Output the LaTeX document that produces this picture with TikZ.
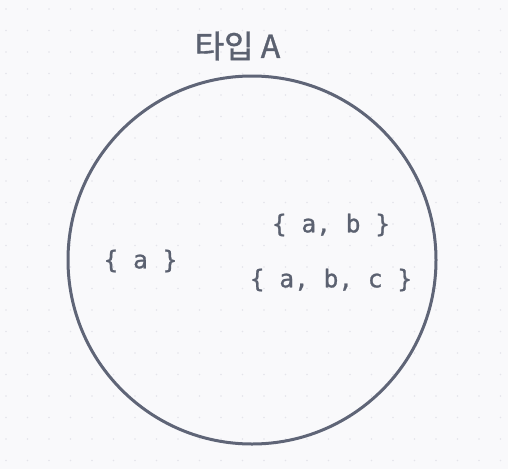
\documentclass[tikz,border=0pt]{standalone}
\usepackage{fontspec}
\newfontfamily\krfont[FakeBold=1.2]{Noto Sans CJK KR}
\newfontfamily\monofont[FakeBold=1.0]{DejaVu Sans Mono}
\definecolor{bgc}{HTML}{F9F9FB}
\definecolor{dotc}{HTML}{E4E4EA}
\definecolor{linec}{HTML}{5F6577}
\definecolor{txtc}{HTML}{5B6170}
\tikzset{
  settext/.style={font=\monofont\fontsize{24.5}{28}\selectfont, text=txtc, inner sep=0pt},
  titletext/.style={font=\krfont\fontsize{32}{36}\selectfont, text=txtc, inner sep=0pt},
}
\begin{document}
\begin{tikzpicture}[x=1pt,y=-1pt]
\fill[bgc] (0,0) rectangle (508,469);
\useasboundingbox (0,0) rectangle (508,469);
\foreach \i in {0,...,23} {
  \foreach \j in {0,...,21} {
    \fill[dotc] ({6+21.5*\i},{9+21.5*\j}) circle (0.9);
  }
}
\node[titletext] (title) at (237.5,46) {타입 A};
\node[draw=linec, line width=3pt, circle, minimum size=368pt, inner sep=0pt] (setA) at (252,260) {};
\node[settext] (s1) at (140.5,261) {\{ a \}};
\node[settext] (s2) at (331,225) {\{ a, b \}};
\node[settext] (s3) at (331,280) {\{ a, b, c \}};
\end{tikzpicture}
\end{document}
